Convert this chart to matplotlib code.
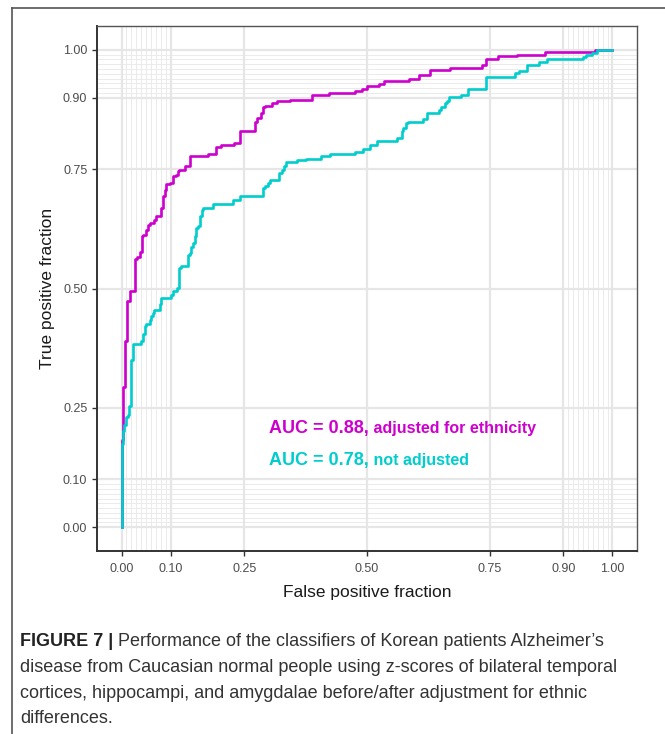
import numpy as np
import matplotlib
matplotlib.use("Agg")
import matplotlib.pyplot as plt
from matplotlib.lines import Line2D

# ROC corner points (fpr, tpr)
fpr_adj = [0.000, 0.000, 0.003, 0.008, 0.012, 0.017, 0.027, 0.031, 0.038, 0.041,
           0.044, 0.050, 0.054, 0.057, 0.067, 0.071, 0.081, 0.084, 0.088, 0.091,
           0.098, 0.105, 0.110, 0.115, 0.118, 0.129, 0.139, 0.176, 0.193, 0.203,
           0.229, 0.241, 0.271, 0.276, 0.284, 0.288, 0.292, 0.306, 0.316, 0.343,
           0.387, 0.422, 0.476, 0.490, 0.500, 0.524, 0.535, 0.586, 0.606, 0.629,
           0.669, 0.735, 0.743, 0.767, 0.806, 0.863, 0.965, 1.000]
tpr_adj = [0.000, 0.182, 0.293, 0.389, 0.473, 0.494, 0.561, 0.565, 0.577, 0.609,
           0.613, 0.623, 0.634, 0.638, 0.644, 0.651, 0.669, 0.693, 0.707, 0.718,
           0.721, 0.735, 0.738, 0.747, 0.749, 0.756, 0.777, 0.782, 0.797, 0.801,
           0.804, 0.829, 0.848, 0.857, 0.868, 0.881, 0.883, 0.888, 0.892, 0.895,
           0.905, 0.909, 0.914, 0.919, 0.924, 0.929, 0.934, 0.938, 0.948, 0.957,
           0.962, 0.969, 0.981, 0.987, 0.990, 0.995, 1.000, 1.000]

fpr_raw = [0.000, 0.000, 0.003, 0.006, 0.010, 0.013, 0.016, 0.020, 0.023, 0.024,
           0.040, 0.043, 0.047, 0.050, 0.057, 0.061, 0.064, 0.067, 0.078, 0.081,
           0.101, 0.105, 0.112, 0.118, 0.122, 0.135, 0.139, 0.142, 0.146, 0.149,
           0.152, 0.156, 0.159, 0.163, 0.166, 0.186, 0.227, 0.241, 0.288, 0.292,
           0.298, 0.302, 0.320, 0.326, 0.330, 0.335, 0.357, 0.376, 0.406, 0.424,
           0.476, 0.492, 0.506, 0.521, 0.561, 0.571, 0.574, 0.579, 0.583, 0.615,
           0.623, 0.646, 0.651, 0.659, 0.663, 0.667, 0.692, 0.706, 0.742, 0.802,
           0.809, 0.826, 0.851, 0.867, 0.940, 0.947, 0.958, 0.969, 1.000]
tpr_raw = [0.000, 0.174, 0.201, 0.215, 0.230, 0.236, 0.254, 0.351, 0.379, 0.383,
           0.390, 0.404, 0.421, 0.425, 0.435, 0.442, 0.449, 0.456, 0.467, 0.481,
           0.487, 0.494, 0.502, 0.543, 0.547, 0.571, 0.575, 0.586, 0.596, 0.609,
           0.627, 0.630, 0.651, 0.665, 0.669, 0.678, 0.686, 0.693, 0.711, 0.714,
           0.721, 0.727, 0.742, 0.749, 0.756, 0.765, 0.769, 0.772, 0.777, 0.782,
           0.787, 0.793, 0.801, 0.810, 0.815, 0.829, 0.836, 0.847, 0.849, 0.856,
           0.868, 0.874, 0.881, 0.888, 0.892, 0.901, 0.905, 0.918, 0.944, 0.951,
           0.955, 0.969, 0.975, 0.981, 0.985, 0.990, 0.993, 1.000, 1.000]

major_breaks = [0, 0.1, 0.25, 0.5, 0.75, 0.9, 1.0]
major_labels = ["0.00", "0.10", "0.25", "0.50", "0.75", "0.90", "1.00"]
minor_breaks = [i / 100 for i in range(1, 10)] + [0.9 + i / 100 for i in range(1, 10)]

label_adj = ("AUC = 0.88,", " adjusted for ethnicity")
label_raw = ("AUC = 0.78,", " not adjusted")
caption_bold = "FIGURE 7 |"
caption_lines = [" Performance of the classifiers of Korean patients Alzheimer\u2019s",
                 "disease from Caucasian normal people using z-scores of bilateral temporal",
                 "cortices, hippocampi, and amygdalae before/after adjustment for ethnic",
                 "differences."]

MAG = "#CD00CD"
CYN = "#00CDCD"
SANS = ["Liberation Sans", "DejaVu Sans"]

W, H = 665, 734
fig = plt.figure(figsize=(W / 100, H / 100), dpi=100)
ax = fig.add_axes([97 / W, 1 - 551 / H, 540 / W, 525 / H])

ax.set_xlim(-0.05, 1.05)
ax.set_ylim(-0.05, 1.05)

for v in minor_breaks:
    ax.axvline(v, color="#EBEBEB", lw=0.7, zorder=0)
    ax.axhline(v, color="#EBEBEB", lw=0.7, zorder=0)
for v in major_breaks:
    ax.axvline(v, color="#E6E6E6", lw=1.6, zorder=0)
    ax.axhline(v, color="#E6E6E6", lw=1.6, zorder=0)

ax.plot(fpr_adj, tpr_adj, drawstyle="steps-post", color=MAG, lw=1.9, zorder=3)
ax.plot(fpr_raw, tpr_raw, drawstyle="steps-post", color=CYN, lw=1.9, zorder=4)

ax.set_xticks(major_breaks)
ax.set_xticklabels(major_labels)
ax.set_yticks(major_breaks)
ax.set_yticklabels(major_labels)
ax.tick_params(direction="out", length=3.5, width=1.0, color="#333333",
               labelcolor="#4D4D4D", labelsize=9)
ax.tick_params(axis="x", pad=5.5)
ax.tick_params(axis="y", pad=3.5)
for lab in ax.get_xticklabels() + ax.get_yticklabels():
    lab.set_family(SANS)

for s in ["top", "right"]:
    ax.spines[s].set_color("#555555")
    ax.spines[s].set_linewidth(1.0)
for s in ["left", "bottom"]:
    ax.spines[s].set_color("#333333")
    ax.spines[s].set_linewidth(1.4)

ax.set_xlabel("False positive fraction", family=SANS, fontsize=12.5,
              color="#1A1A1A", labelpad=7)
ax.set_ylabel("True positive fraction", family=SANS, fontsize=12.5,
              color="#1A1A1A", labelpad=6)

# AUC annotations
t1 = ax.text(0.30, 0.197, label_adj[0], color=MAG, fontsize=13, family=SANS,
             fontweight="bold", va="baseline", zorder=5)
t2 = ax.text(0.30, 0.130, label_raw[0], color=CYN, fontsize=13, family=SANS,
             fontweight="bold", va="baseline", zorder=5)

# caption
base_y = [646, 672, 698, 723]
cap_size = 13
tb = fig.text(20 / W, 1 - base_y[0] / H, caption_bold, fontsize=cap_size, family=SANS,
              fontweight="bold", color="#222222", va="baseline")

fig.canvas.draw()
r = fig.canvas.get_renderer()
inv = ax.transData.inverted()
for t, rest in [(t1, label_adj[1]), (t2, label_raw[1])]:
    bb = t.get_window_extent(r)
    xd = inv.transform((bb.x1, bb.y0))[0]
    ax.text(xd, t.get_position()[1], rest, color=t.get_color(), fontsize=11.5,
            family=SANS, fontweight="bold", va="baseline", zorder=5)

bb = tb.get_window_extent(r)
fig.text(bb.x1 / W, 1 - base_y[0] / H, caption_lines[0], fontsize=cap_size,
         family=SANS, color="#333333", va="baseline")
for i in range(1, 4):
    fig.text(20 / W, 1 - base_y[i] / H, caption_lines[i], fontsize=cap_size,
             family=SANS, color="#333333", va="baseline")

# outer frame (top and left edges)
fig.add_artist(Line2D([12 / W, 1.0], [1 - 8 / H, 1 - 8 / H], color="#555555", lw=1.2))
fig.add_artist(Line2D([12 / W, 12 / W], [0.0, 1 - 8 / H], color="#555555", lw=1.2))

fig.savefig("out.png", dpi=100)
